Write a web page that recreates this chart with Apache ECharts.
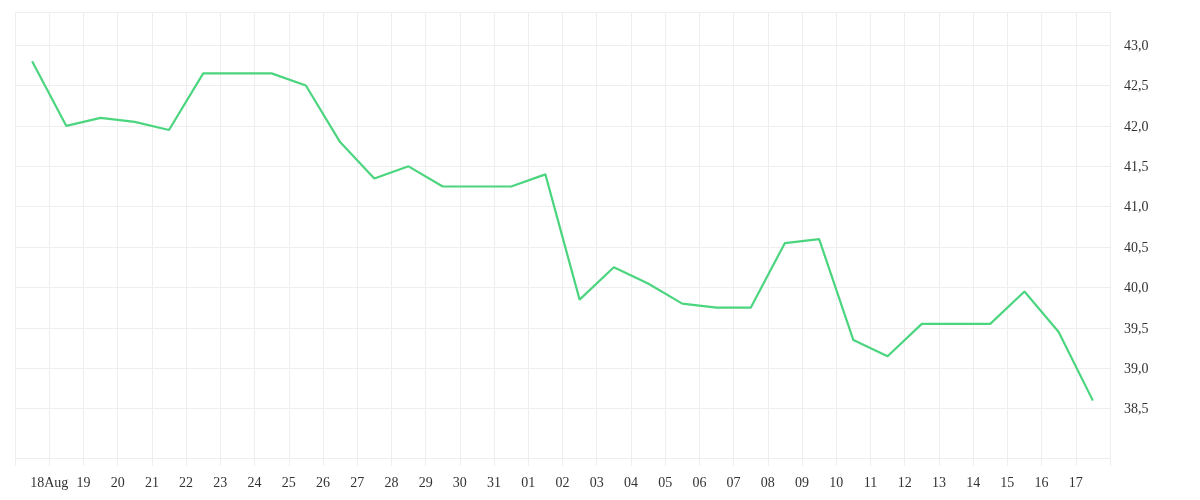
<!DOCTYPE html><html><head><meta charset="utf-8"><script src="https://cdn.jsdelivr.net/npm/echarts@6/dist/echarts.min.js"></script></head><body style="margin:0"><div id="c" style="width:1200px;height:500px"></div><script>
var dayLabels=['','18Aug','19','20','21','22','23','24','25','26','27','28','29','30','31','01','02','03','04','05','06','07','08','09','10','11','12','13','14','15','16','17',''];
var values=[42.8,42.0,42.1,42.05,41.95,42.65,42.65,42.65,42.5,41.8,41.35,41.5,41.25,41.25,41.25,41.4,39.85,40.25,40.05,39.8,39.75,39.75,40.55,40.6,39.35,39.15,39.55,39.55,39.55,39.95,39.45,38.6];
var yTicks=[38.5,39,39.5,40,40.5,41,41.5,42,42.5,43];
var data=values.map(function(v,i){return [i+0.5,v];});
var ch=echarts.init(document.getElementById('c'));
var font='Liberation Serif';
ch.setOption({animation:false,
grid:{left:15,right:90,top:12,bottom:42},
xAxis:{type:'value',min:0,max:32,interval:1,axisLine:{show:false},axisTick:{show:true,length:8,lineStyle:{color:'#eee'}},
 splitLine:{show:true,lineStyle:{color:'#eee'}},
 axisLabel:{color:'#333',fontFamily:font,fontSize:14,margin:18,formatter:function(v){return dayLabels[Math.round(v)]||'';}}},
yAxis:{type:'value',position:'right',min:37.89,max:43.41,axisLine:{show:false},
 axisTick:{show:false,customValues:[37.89].concat(yTicks).concat([43.41])},
 splitLine:{show:true,lineStyle:{color:'#eee'}},
 axisLabel:{customValues:yTicks,color:'#333',fontFamily:font,fontSize:14,margin:14,verticalAlign:'top',lineHeight:14,padding:[-6,0,0,0],formatter:function(v){return v.toFixed(1).replace('.',',');}}},
series:[{type:'line',data:data,symbol:'none',lineStyle:{color:'#4cd57f',width:2.2}}]
});
</script></body></html>
